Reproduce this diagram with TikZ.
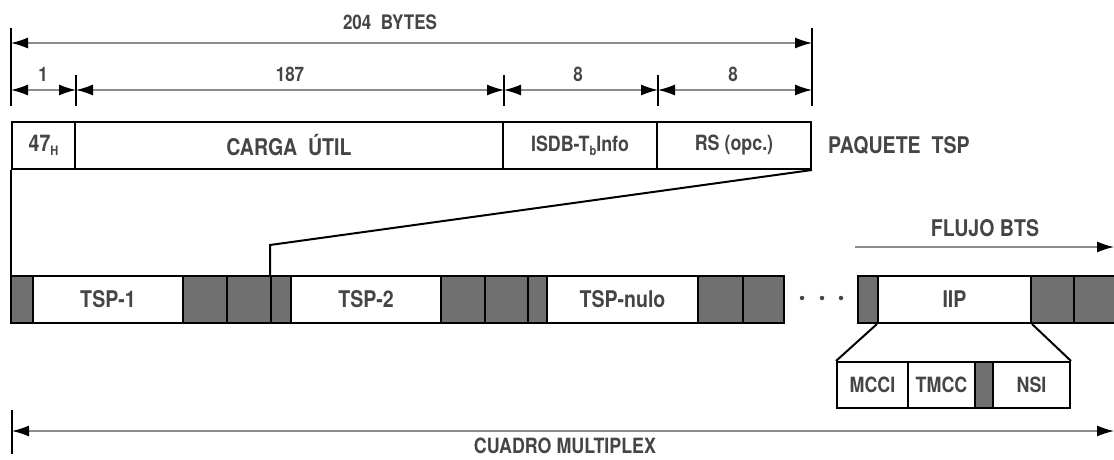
\documentclass[tikz,border=0pt]{standalone}
\usepackage{fontspec}
\setmainfont{TeX Gyre Heros}[FakeStretch=0.85]
\usetikzlibrary{arrows.meta}
\definecolor{txt}{HTML}{454545}
\definecolor{blk}{HTML}{707070}
\definecolor{dimc}{HTML}{8C8C8C}
\newcommand{\fbig}{\fontsize{23}{25}\selectfont\bfseries}
\newcommand{\fmid}{\fontsize{21}{23}\selectfont\bfseries}
\newcommand{\fdim}{\fontsize{20}{22}\selectfont\bfseries}
\newcommand{\sub}[1]{\raisebox{-0.35ex}{\fontsize{13}{13}\selectfont #1}}
\tikzset{
  cell/.style={draw=black, line width=2pt, minimum height=47, inner sep=0pt,
               anchor=north west, font=\fbig, text=txt},
  gcell/.style={cell, fill=blk},
  scell/.style={cell, minimum height=46, font=\fmid},
  sgcell/.style={scell, fill=blk},
  lbl/.style={inner sep=0pt, text=txt, font=\fbig},
  dimlbl/.style={inner sep=0pt, text=txt, font=\fdim},
  tick/.style={draw=black, line width=2pt},
  dimline/.style={draw=dimc, line width=1.3pt,
    {Latex[length=17pt,width=11pt,color=black]}-{Latex[length=17pt,width=11pt,color=black]}},
  oneway/.style={draw=dimc, line width=1.3pt,
    -{Latex[length=17pt,width=11pt,color=black]}},
  link/.style={draw=black, line width=2pt},
  dot/.style={circle, fill=txt, inner sep=0pt, minimum size=4.5pt}
}
\begin{document}
\begin{tikzpicture}[x=1pt,y=-1pt]
\useasboundingbox (0,0) rectangle (1114,460);

% ---------- packet ----------
\node[cell, minimum width=63] (h47) at (11,121) {47\sub{H}};
\node[cell, minimum width=428] (carga) at (74,121) {CARGA\ \ ÚTIL};
\node[cell, minimum width=154] (isdb) at (502,121) {\fmid ISDB-T\sub{b}Info};
\node[cell, minimum width=154] (rs) at (656,121) {\fmid RS (opc.)};
\node[lbl, anchor=west] (paq) at (828,145) {PAQUETE\ \ TSP};

% ---------- dimension lines ----------
\coordinate (a0) at (h47.north west |- 0,43);
\coordinate (a1) at (rs.north east |- 0,43);
\draw[tick] (h47.north west |- 0,28) -- (h47.north west |- 0,106);
\draw[tick] (rs.north east |- 0,28) -- (rs.north east |- 0,106);
\draw[dimline] (a0) -- (a1);
\node[dimlbl] (l204) at (390,22) {204\ \ BYTES};

\coordinate (b0) at (h47.north west |- 0,90);
\coordinate (b1) at (h47.north east |- 0,90);
\coordinate (b2) at (carga.north east |- 0,90);
\coordinate (b3) at (isdb.north east |- 0,90);
\coordinate (b4) at (rs.north east |- 0,90);
\foreach \c in {b1,b2,b3}{
  \draw[tick] ([yshift=15pt]\c) -- ([yshift=-16pt]\c);
}
\draw[dimline] (b0) -- (b1);
\draw[dimline] (b1) -- (b2);
\draw[dimline] (b2) -- (b3);
\draw[dimline] (b3) -- (b4);
\node[dimlbl] (l1) at (43,74) {1};
\node[dimlbl] (l187) at (290,74) {187};
\node[dimlbl] (l8a) at (578,74) {8};
\node[dimlbl] (l8b) at (733,74) {8};

% ---------- stream ----------
\node[gcell, minimum width=22] (g1) at (10,275) {};
\node[cell, minimum width=150] (tsp1) at (32,275) {TSP-1};
\node[gcell, minimum width=44] (g2) at (182,275) {};
\node[gcell, minimum width=44] (g3) at (226,275) {};
\node[gcell, minimum width=20] (g4) at (270,275) {};
\node[cell, minimum width=150] (tsp2) at (290,275) {TSP-2};
\node[gcell, minimum width=44] (g5) at (440,275) {};
\node[gcell, minimum width=43] (g6) at (484,275) {};
\node[gcell, minimum width=19] (g7) at (527,275) {};
\node[cell, minimum width=151] (tspn) at (546,275) {TSP-nulo};
\node[gcell, minimum width=45] (g8) at (697,275) {};
\node[gcell, minimum width=41] (g9) at (742,275) {};
\node[dot] (d1) at (802,298) {};
\node[dot] (d2) at (822,298) {};
\node[dot] (d3) at (841,298) {};
\node[gcell, minimum width=20] (g10) at (857,275) {};
\node[cell, minimum width=153] (iip) at (877,275) {IIP};
\node[gcell, minimum width=43] (g11) at (1030,275) {};
\node[gcell, minimum width=43] (g12) at (1073,275) {};

% packet to stream links
\coordinate (bend) at ([yshift=30pt]g4.north west);
\draw[link] (h47.south west) -- (g1.north west -| h47.south west);
\draw[link] (rs.south east) -- (bend) -- (g4.north west);

% flujo BTS
\coordinate (f0) at (855,247);
\coordinate (f1) at (1114,247);
\draw[oneway] (f0) -- (f1);
\node[lbl] (flujo) at (985,228) {FLUJO BTS};

% ---------- IIP detail ----------
\node[scell, minimum width=71] (mcci) at (836,361) {MCCI};
\node[scell, minimum width=67] (tmcc) at (907,361) {TMCC};
\node[sgcell, minimum width=18] (g13) at (974,361) {};
\node[scell, minimum width=77] (nsi) at (992,361) {NSI};
\draw[link] (iip.south west) -- (mcci.north west);
\draw[link] (iip.south east) -- (nsi.north east);

% ---------- cuadro multiplex ----------
\coordinate (m0) at (12,431);
\coordinate (m1) at (1114,431);
\draw[tick] (12,410) -- (12,454);
\draw[dimline] (m0) -- (m1);
\node[lbl, font=\fmid] (cuadro) at (565,446) {CUADRO MULTIPLEX};
\end{tikzpicture}
\end{document}
